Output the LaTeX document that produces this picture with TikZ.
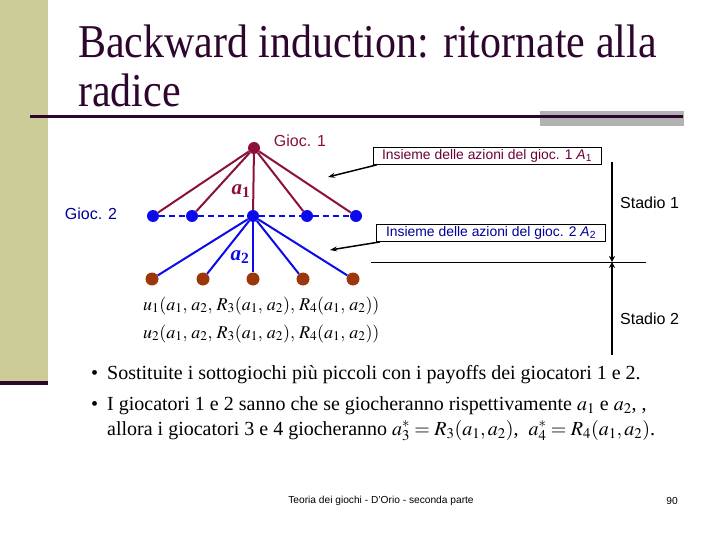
\documentclass[tikz,border=0pt]{standalone}
\usepackage{mathptmx}
\usepackage{fontspec}
\setmainfont{Liberation Serif}
\setsansfont{Liberation Sans}
\usetikzlibrary{arrows.meta,positioning}
\definecolor{sbar}{RGB}{204,204,153}
\definecolor{sline}{RGB}{45,5,45}
\definecolor{sgray}{RGB}{178,178,178}
\definecolor{pone}{RGB}{140,15,60}
\definecolor{ptwo}{RGB}{10,10,235}
\definecolor{pthree}{RGB}{155,55,10}
\definecolor{tone}{RGB}{110,0,60}
\definecolor{ttwo}{RGB}{0,0,150}
\newcommand{\tallbox}[1]{\scalebox{1}[1.12]{#1}}
\tikzset{
  title/.style={anchor=base west,inner sep=0pt,text=sline,
                font=\fontsize{42}{46}\selectfont},
  gone/.style={circle,fill=pone,minimum size=12pt,inner sep=0pt},
  gtwo/.style={circle,fill=ptwo,minimum size=12pt,inner sep=0pt},
  gthree/.style={circle,fill=pthree,minimum size=13pt,inner sep=0pt},
  eone/.style={pone,line width=2pt},
  etwo/.style={ptwo,line width=2pt},
  etwod/.style={ptwo,line width=2pt,dash pattern=on 6pt off 4pt},
  plab/.style={font=\sffamily\fontsize{16}{18}\selectfont,inner sep=0pt},
  alab/.style={font=\fontsize{21}{23}\selectfont\bfseries\itshape,inner sep=0pt},
  abox/.style={draw=black,line width=0.8pt,fill=white,inner sep=0pt,
               minimum height=17pt,font=\sffamily\fontsize{13.9}{15}\selectfont},
  arr/.style={-{Stealth[length=7pt,width=5pt]},black,line width=1.5pt},
  stg/.style={-{Stealth[length=6pt,width=6pt]},black,line width=2pt},
  stlab/.style={font=\sffamily\fontsize{16}{18}\selectfont,inner sep=0pt,anchor=west},
  frm/.style={font=\fontsize{18}{20}\selectfont,inner sep=0pt,anchor=base west},
  btxt/.style={font=\fontsize{20}{24}\selectfont,inner sep=0pt,anchor=base west},
  foot/.style={font=\sffamily\fontsize{10.2}{11}\selectfont,inner sep=0pt},
}
\begin{document}
\begin{tikzpicture}[x=1pt,y=-1pt]
  \useasboundingbox (0,0) rectangle (720,540);
  % slide frame
  \fill[sbar]  (0,0) rectangle (48,382);
  \fill[sline] (0,381) rectangle (48,385);
  \fill[sgray] (540,111) rectangle (684,126);
  \draw[sline,line width=3pt] (30,117) -- (683,117);
  \node[title] (tl1) at (78,58)  {\tallbox{Backward induction: ritornate alla}};
  \node[title] (tl2) at (78,107) {\tallbox{radice}};
  % game tree
  \node[gone] (r) at (254,148) {};
  \node[plab,text=pone] (g1) at (300,141) {Gioc. 1};
  \foreach \x [count=\i] in {153,192,253,307,356}
    \node[gtwo] (b\i) at (\x,216) {};
  \foreach \x [count=\i] in {152,203,253,303,353}
    \node[gthree] (c\i) at (\x,279) {};
  \node[plab,text=ttwo] (g2) at (91,214) {Gioc. 2};
  \foreach \i in {1,...,5} {
    \draw[eone] (r) -- (b\i);
    \draw[etwo] (b3) -- (c\i);
  }
  \draw[etwod] (b1) -- (b2) -- (b3) -- (b4) -- (b5);
  \node[alab,text=pone] (a1) at (241,191) {a\textsubscript{\upshape 1}};
  \node[alab,text=ptwo] (a2) at (240,257) {a\textsubscript{\upshape 2}};
  % action sets
  \node[abox,text=tone,minimum width=228pt] (s1) at (487,156)
    {Insieme delle azioni del gioc. 1 \textit{A}\textsubscript{1}};
  \node[abox,text=ttwo,minimum width=229pt] (s2) at (491,233)
    {Insieme delle azioni del gioc. 2 \textit{A}\textsubscript{2}};
  \coordinate (t1) at (328,177);
  \coordinate (t2) at (330,250);
  \draw[arr] ([xshift=4pt]s1.south west) -- (t1);
  \draw[arr] ([xshift=4pt]s2.south west) -- (t2);
  % stages
  \coordinate (v0) at (612,162);
  \coordinate (vm) at (612,262);
  \coordinate (v1) at (612,355);
  \coordinate (h0) at (371,262);
  \coordinate (h1) at (646,262);
  \draw[black,line width=1pt] (h0) -- (h1);
  \draw[stg] (v0) -- (vm);
  \draw[stg] (v1) -- (vm);
  \node[stlab] (st1) at (620,203) {Stadio 1};
  \node[stlab] (st2) at (620,319) {Stadio 2};
  % payoffs
  \node[frm] (u1) at (143,310) {$u_1(a_1,\,a_2,\,R_3(a_1,\,a_2),\,R_4(a_1,\,a_2))$};
  \node[frm] (u2) at (143,338) {$u_2(a_1,\,a_2,\,R_3(a_1,\,a_2),\,R_4(a_1,\,a_2))$};
  % bullets
  \node[btxt] (d1) at (91,379) {\textbullet};
  \node[btxt] (l1) at (107,379)
    {Sostituite i sottogiochi più piccoli con i payoffs dei giocatori 1 e 2.};
  \node[btxt] (d2) at (91,410) {\textbullet};
  \node[btxt] (l2) at (107,410)
    {I giocatori 1 e 2 sanno che se giocheranno rispettivamente $a_1$ e $a_2$, ,};
  \node[btxt] (l3) at (107,435)
    {allora i giocatori 3 e 4 giocheranno $a_3^*=R_3(a_1,a_2)$,\ \ $a_4^*=R_4(a_1,a_2)$.};
  % footer
  \node[foot] (ft) at (381,501) {Teoria dei giochi - D'Orio - seconda parte};
  \node[foot] (pg) at (672,501) {90};
\end{tikzpicture}
\end{document}
